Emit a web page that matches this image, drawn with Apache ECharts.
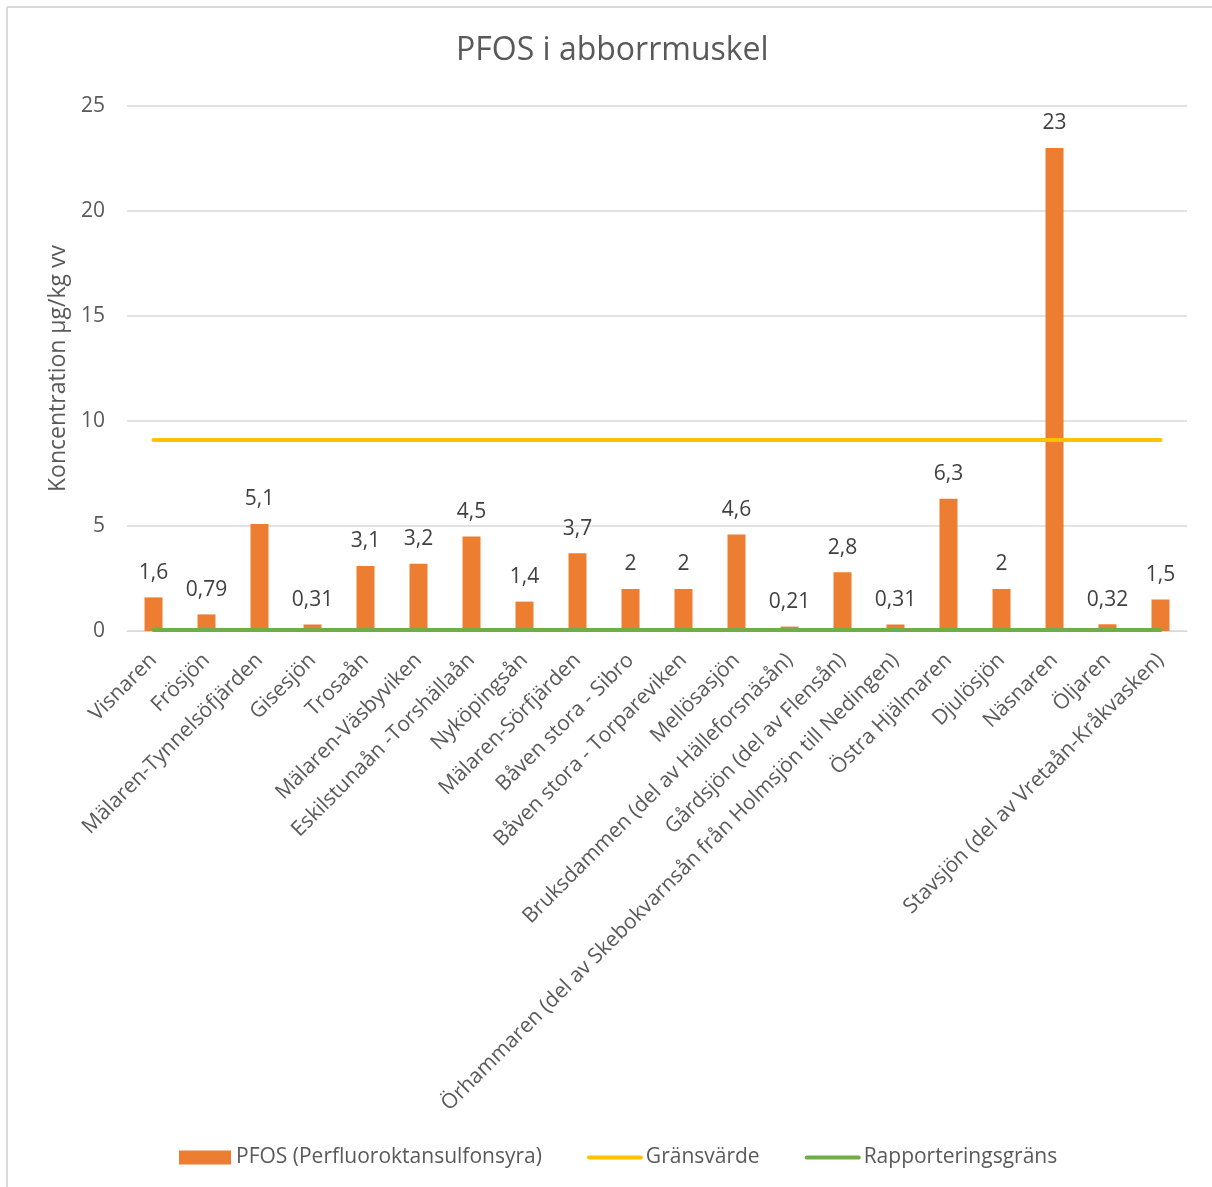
<!DOCTYPE html>
<html>
<head>
<meta charset="utf-8">
<script src="https://cdn.jsdelivr.net/npm/echarts@6/dist/echarts.min.js"></script>
<style>
html,body{margin:0;padding:0;background:#fff;}
#chart{width:1212px;height:1187px;}
</style>
</head>
<body>
<div id="chart"></div>
<script>
const categories = [
  "Visnaren","Frösjön","Mälaren-Tynnelsöfjärden","Gisesjön","Trosaån",
  "Mälaren-Väsbyviken","Eskilstunaån -Torshällaån","Nyköpingsån","Mälaren-Sörfjärden",
  "Båven stora - Sibro","Båven stora - Torpareviken","Mellösasjön",
  "Bruksdammen (del av Hälleforsnäsån)","Gårdsjön (del av Flensån)",
  "Örhammaren (del av Skebokvarnsån från Holmsjön till Nedingen)",
  "Östra Hjälmaren","Djulösjön","Näsnaren","Öljaren",
  "Stavsjön (del av Vretaån-Kråkvasken)"
];
const pfos = [1.6,0.79,5.1,0.31,3.1,3.2,4.5,1.4,3.7,2,2,4.6,0.21,2.8,0.31,6.3,2,23,0.32,1.5];
const gransvarde = [9.1,9.1,9.1,9.1,9.1,9.1,9.1,9.1,9.1,9.1,9.1,9.1,9.1,9.1,9.1,9.1,9.1,9.1,9.1,9.1];
const rapporteringsgrans = [0.05,0.05,0.05,0.05,0.05,0.05,0.05,0.05,0.05,0.05,0.05,0.05,0.05,0.05,0.05,0.05,0.05,0.05,0.05,0.05];
const yTicks = [0,5,10,15,20,25];

const FONT = "'Open Sans', 'DejaVu Sans', sans-serif";
const chart = echarts.init(document.getElementById('chart'), null, {renderer:'canvas'});
chart.setOption({
  backgroundColor: '#ffffff',
  animation: false,
  textStyle: {fontFamily: FONT},
  graphic: [
    {type:'line', shape:{x1:7, y1:7, x2:7, y2:1187}, style:{stroke:'#d9d9d9', lineWidth:2}},
    {type:'line', shape:{x1:7, y1:7, x2:1212, y2:7}, style:{stroke:'#d9d9d9', lineWidth:2}}
  ],
  title: {
    text: 'PFOS i abborrmuskel',
    left: 451,
    top: 30,
    textStyle: {fontFamily: FONT, fontSize: 32, fontWeight: 'normal', color: '#595959'}
  },
  legend: {
    bottom: 14,
    left: 174,
    itemWidth: 52,
    itemHeight: 14,
    itemGap: 45,
    textStyle: {fontFamily: FONT, fontSize: 21, color: '#595959'},
    lineStyle: {width: 4, cap: 'round'},
    data: [
      {name: 'PFOS (Perfluoroktansulfonsyra)', icon: 'rect'},
      {name: 'Gränsvärde', itemStyle: {opacity: 0}},
      {name: 'Rapporteringsgräns', itemStyle: {opacity: 0}}
    ]
  },
  grid: {left: 127, right: 25, top: 106, bottom: 556, containLabel: false},
  xAxis: {
    type: 'category',
    data: categories,
    boundaryGap: true,
    axisLine: {show: true, lineStyle: {color: '#d9d9d9', width: 1}},
    axisTick: {show: false},
    axisLabel: {
      rotate: 45,
      interval: 0,
      margin: 26,
      fontFamily: FONT,
      fontSize: 21,
      color: '#595959'
    }
  },
  yAxis: {
    type: 'value',
    min: yTicks[0],
    max: yTicks[yTicks.length - 1],
    interval: 5,
    name: 'Koncentration µg/kg vv',
    nameLocation: 'middle',
    nameGap: 57,
    nameTextStyle: {fontFamily: FONT, fontSize: 23, color: '#595959'},
    axisLine: {show: false},
    axisTick: {show: false},
    axisLabel: {fontFamily: FONT, fontSize: 21, color: '#595959', margin: 22},
    splitLine: {lineStyle: {color: '#d9d9d9', width: 1.5}}
  },
  series: [
    {
      name: 'PFOS (Perfluoroktansulfonsyra)',
      type: 'bar',
      data: pfos,
      barWidth: 18,
      itemStyle: {color: '#ED7D31'},
      label: {
        show: true,
        position: 'top',
        distance: 14,
        fontFamily: FONT,
        fontSize: 21,
        color: '#404040',
        formatter: p => String(p.value).replace('.', ',')
      },
      z: 2
    },
    {
      name: 'Gränsvärde',
      type: 'line',
      data: gransvarde,
      symbol: 'none',
      lineStyle: {color: '#FFC000', width: 4, cap: 'round'},
      itemStyle: {color: '#FFC000'},
      z: 3
    },
    {
      name: 'Rapporteringsgräns',
      type: 'line',
      data: rapporteringsgrans,
      symbol: 'none',
      lineStyle: {color: '#70AD47', width: 4, cap: 'round'},
      itemStyle: {color: '#70AD47'},
      z: 3
    }
  ]
});
</script>
</body>
</html>
